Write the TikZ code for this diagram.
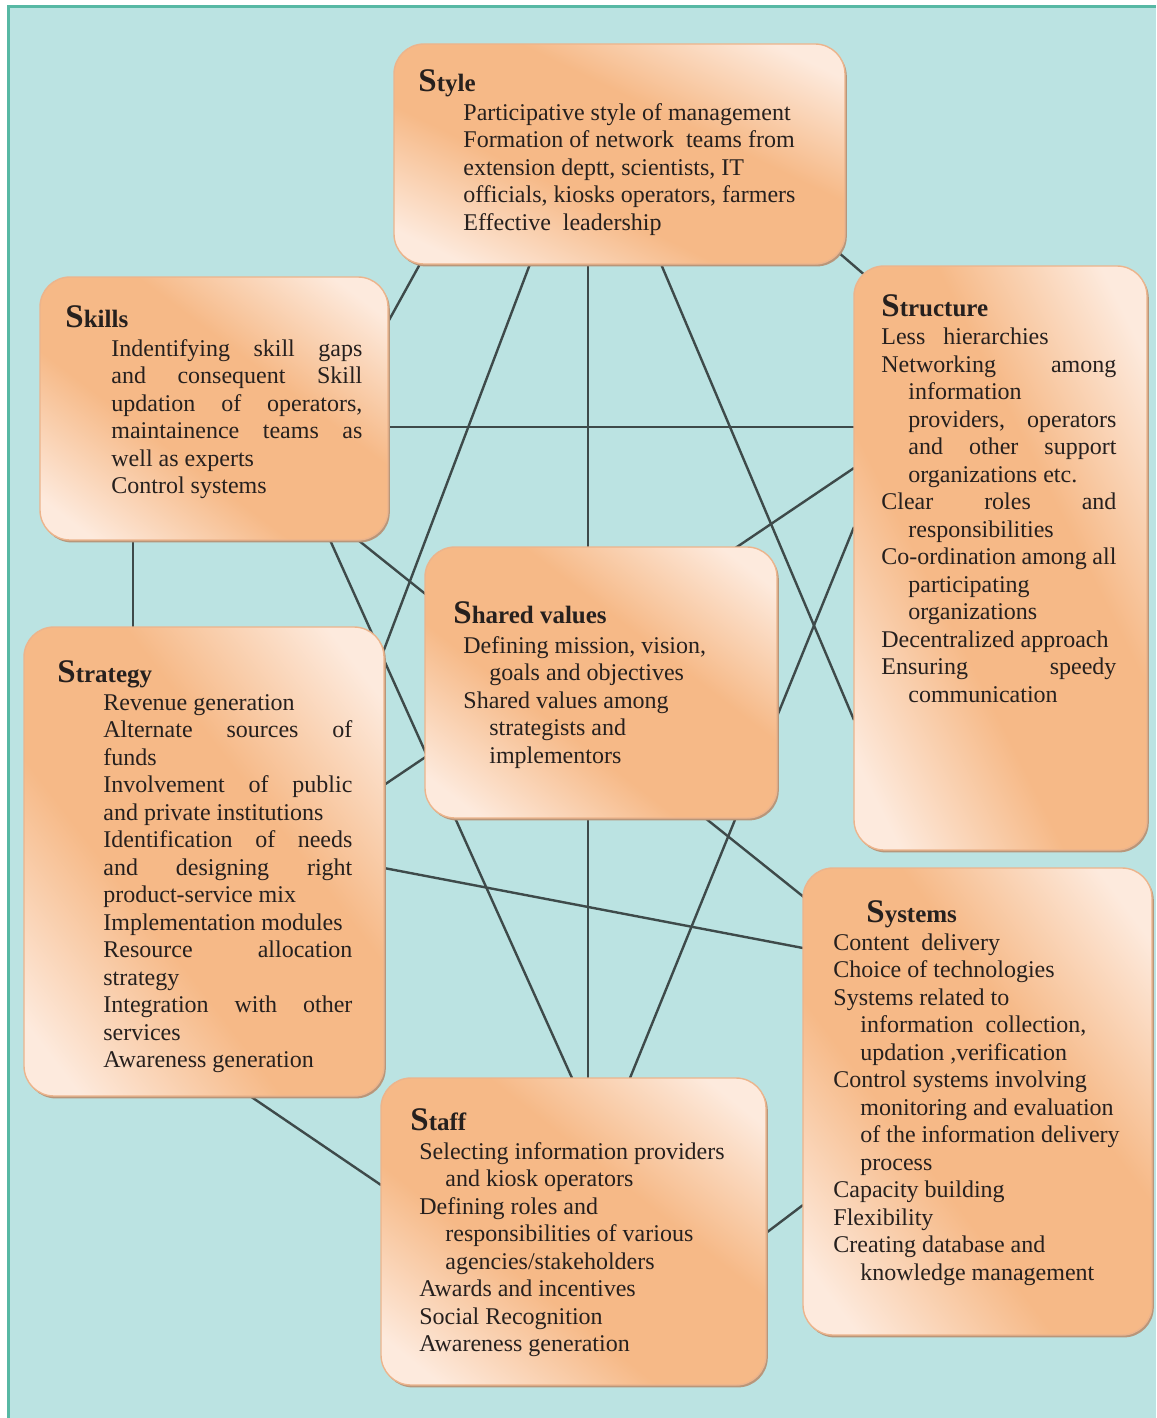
\documentclass[tikz,border=0pt]{standalone}
\usepackage{fontspec}
\setmainfont{Liberation Serif}
\usetikzlibrary{calc}
\definecolor{bgteal}{RGB}{187,227,226}
\definecolor{frameteal}{RGB}{87,184,164}
\definecolor{boxlight}{RGB}{253,234,221}
\definecolor{boxorange}{RGB}{246,185,135}
\definecolor{boxedge}{RGB}{236,180,140}
\definecolor{boxshadow}{RGB}{184,150,122}
\definecolor{linkcol}{RGB}{62,74,74}
\definecolor{txtcol}{RGB}{38,32,30}
\pgfdeclareverticalshading{band}{100bp}{color(0bp)=(boxlight); color(25bp)=(boxlight); color(29bp)=(boxlight); color(43bp)=(boxorange); color(57bp)=(boxorange); color(71bp)=(boxlight); color(75bp)=(boxlight); color(100bp)=(boxlight)}
\pgfdeclarelayer{back}
\pgfdeclarelayer{links}
\pgfdeclarelayer{fills}
\pgfsetlayers{back,links,fills,main}
\newlength\hind
\setlength\hind{13.5pt}
\newcommand\LnP[1]{#1\par}
\newcommand\LnJ[1]{\makebox[\linewidth][s]{#1}\par}
\newcommand\LnI[1]{\hspace*{\hind}#1\par}
\newcommand\LnIJ[1]{\hspace*{\hind}\makebox[\dimexpr\linewidth-\hind\relax][s]{#1}\par}
\newcommand\Hd[2]{{\fontsize{16.5}{16.5}\selectfont #1}#2}
% #1 node name, #2 rotation angle, #3 extent across the band, #4 extent along the band axis (px)
\newcommand\BoxFill[4]{%
  \fill[boxshadow, rounded corners=15pt] ($(#1.north west)+(1.8,2.4)$) rectangle ($(#1.south east)+(1.8,2.4)$);
  \begin{scope}
    \clip[rounded corners=15pt] (#1.north west) rectangle (#1.south east);
    \begin{scope}[transform canvas={rotate around={#2:(#1.center)}}]
      \shade[shading=band] ($(#1.center)+(-#3/2,-#4/2)$) rectangle ($(#1.center)+(#3/2,#4/2)$);
    \end{scope}
  \end{scope}}
\tikzset{
  box/.style={rectangle, rounded corners=15pt, draw=boxedge, line width=0.7pt,
    inner sep=0pt, outer sep=0pt, anchor=north west},
  head/.style={anchor=base west, inner sep=0pt, text=txtcol, font=\fontsize{12.5}{14}\selectfont\bfseries},
  body/.style={anchor=base west, inner sep=0pt, text=txtcol, font=\fontsize{12}{13.75}\selectfont},
  link/.style={draw=linkcol, line width=1.2pt}
}
\begin{document}
\begin{tikzpicture}[x=0.5pt, y=-0.5pt]
\useasboundingbox (0,0) rectangle (1156,1418);
\begin{pgfonlayer}{back}
\fill[white] (0,0) rectangle (1156,1418);
\fill[bgteal] (8.5,6.5) rectangle (1156,1418);
\draw[frameteal, line width=1.5pt] (8.5,1418) -- (8.5,6.5) -- (1156,6.5);
\end{pgfonlayer}

% boxes
\node[box, minimum width=225.5pt, minimum height=110pt] (style) at (394,44) {};
\node[box, minimum width=174pt, minimum height=131.5pt] (skills) at (40,277) {};
\node[box, minimum width=146.5pt, minimum height=292pt] (structure) at (854,266) {};
\node[box, minimum width=176pt, minimum height=135.5pt] (shared) at (425,547) {};
\node[box, minimum width=180pt, minimum height=234.5pt] (strategy) at (24,627) {};
\node[box, minimum width=174.5pt, minimum height=233.5pt] (systems) at (803,868) {};
\node[box, minimum width=192.5pt, minimum height=153.5pt] (staff) at (381,1078) {};

\begin{pgfonlayer}{fills}
\BoxFill{style}{-26.0}{520}{396}
\BoxFill{skills}{-37.1}{456}{420}
\BoxFill{structure}{-63.4}{674}{524}
\BoxFill{shared}{-37.6}{464}{430}
\BoxFill{strategy}{-52.5}{611}{572}
\BoxFill{systems}{-53.2}{603}{560}
\BoxFill{staff}{-38.6}{512}{481}
\end{pgfonlayer}

% Style
\node[head] (styleH) at (418,92) {\Hd{S}{tyle}};
\node[body] (styleT) at (463,120) {\parbox[t]{170pt}{%
\LnP{Participative style of management}
\LnP{Formation of network\ \ teams from}
\LnP{extension deptt, scientists, IT}
\LnP{officials, kiosks operators, farmers}
\LnP{Effective\ \ leadership}}};

% Skills
\node[head] (skillsH) at (65,327) {\Hd{S}{kills}};
\node[body] (skillsT) at (111,356) {\parbox[t]{125.5pt}{%
\LnJ{Indentifying skill gaps}
\LnJ{and consequent Skill}
\LnJ{updation of operators,}
\LnJ{maintainence teams as}
\LnP{well as experts}
\LnP{Control systems}}};

% Structure
\node[head] (structureH) at (881,316) {\Hd{S}{tructure}};
\node[body] (structureT) at (881,344.5) {\parbox[t]{117.5pt}{%
\LnP{Less\hspace{9pt}hierarchies}
\LnJ{Networking among}
\LnI{information}
\LnIJ{providers, operators}
\LnIJ{and other support}
\LnI{organizations etc.}
\LnJ{Clear roles and}
\LnI{responsibilities}
\LnP{Co-ordination among all}
\LnI{participating}
\LnI{organizations}
\LnP{Decentralized approach}
\LnJ{Ensuring speedy}
\LnI{communication}}};

% Shared values
\node[head] (sharedH) at (453,623) {\Hd{S}{hared values}};
\node[body] (sharedT) at (463,653) {\parbox[t]{135pt}{\setlength\hind{13pt}%
\LnP{Defining mission, vision,}
\LnI{goals and objectives}
\LnP{Shared values among}
\LnI{strategists and}
\LnI{implementors}}};

% Strategy
\node[head] (strategyH) at (57,682) {\Hd{S}{trategy}};
\node[body] (strategyT) at (103,710) {\parbox[t]{124.5pt}{%
\LnP{Revenue generation}
\LnJ{Alternate sources of}
\LnP{funds}
\LnJ{Involvement of public}
\LnP{and private institutions}
\LnJ{Identification of needs}
\LnJ{and designing right}
\LnP{product-service mix}
\LnP{Implementation modules}
\LnJ{Resource allocation}
\LnP{strategy}
\LnJ{Integration with other}
\LnP{services}
\LnP{Awareness generation}}};

% Systems
\node[head] (systemsH) at (866,922) {\Hd{S}{ystems}};
\node[body] (systemsT) at (833,950) {\parbox[t]{150pt}{%
\LnP{Content\hspace{6pt}delivery}
\LnP{Choice of technologies}
\LnP{Systems related to}
\LnI{information\hspace{6pt}collection,}
\LnI{updation ,verification}
\LnP{Control systems involving}
\LnI{monitoring and evaluation}
\LnI{of the information delivery}
\LnI{process}
\LnP{Capacity building}
\LnP{Flexibility}
\LnP{Creating database and}
\LnI{knowledge management}}};

% Staff
\node[head] (staffH) at (410,1130) {\Hd{S}{taff}};
\node[body] (staffT) at (419,1159) {\parbox[t]{160pt}{\setlength\hind{13pt}%
\LnP{Selecting information providers}
\LnI{and kiosk operators}
\LnP{Defining roles and}
\LnI{responsibilities of various}
\LnI{agencies/stakeholders}
\LnP{Awards and incentives}
\LnP{Social Recognition}
\LnP{Awareness generation}}};

% connectors
\begin{pgfonlayer}{links}
\draw[link] ($(style.south west)+(26,0)$) -- ($(skills.north east)+(0,45)$);
\draw[link] ($(style.south west)+(136,0)$) -- ($(strategy.north east)+(-2,28)$);
\draw[link] ($(style.south west)+(194,0)$) -- ($(staff.north west)+(207,0)$);
\draw[link] ($(style.south west)+(267,0)$) -- ($(structure.north west)+(0,454)$);
\draw[link] ($(style.south east)+(-7,-12)$) -- ($(structure.north west)+(13,11)$);
\draw[link] ($(skills.north east)+(0,150)$) -- ($(structure.north west)+(0,161)$);
\draw[link] ($(skills.south west)+(93,0)$) -- ($(strategy.north west)+(109,0)$);
\draw[link] ($(skills.south west)+(290,0)$) -- ($(staff.north west)+(191,0)$);
\draw[link] ($(skills.south east)+(-30,0)$) -- ($(systems.north west)+(2,30)$);
\draw[link] ($(structure.north west)+(0,202)$) -- ($(strategy.north east)+(0,158)$);
\draw[link] ($(structure.north west)+(0,261)$) -- ($(staff.north west)+(249,0)$);
\draw[link] ($(strategy.north east)+(0,241)$) -- ($(systems.north west)+(0,80)$);
\draw[link] ($(strategy.south west)+(226,0)$) -- ($(staff.north west)+(0,107)$);
\draw[link] ($(staff.north east)+(0,155)$) -- ($(systems.north west)+(0,337)$);
\end{pgfonlayer}
\end{tikzpicture}
\end{document}
